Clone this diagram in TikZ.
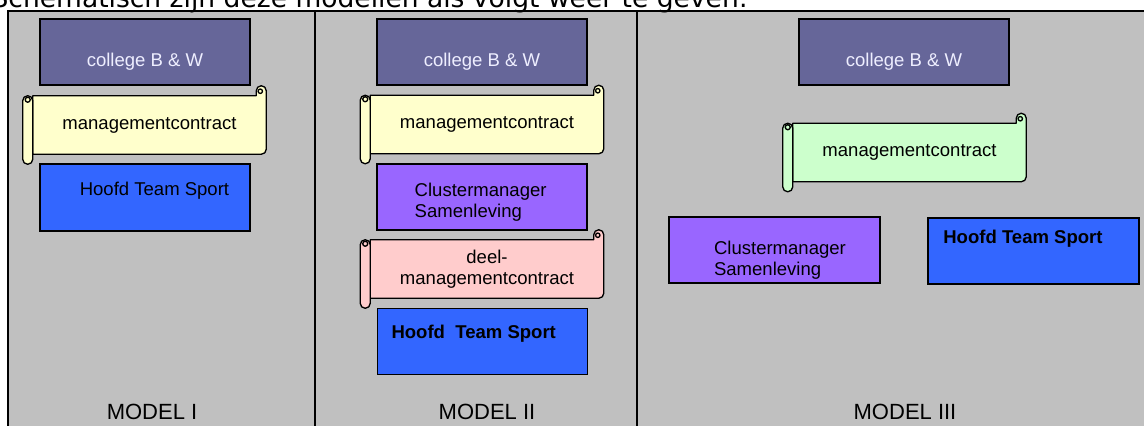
\documentclass[tikz,border=0pt]{standalone}
\usepackage{fontspec}
\setmainfont{Liberation Sans}
\newfontfamily\verdana{DejaVu Sans}
\usetikzlibrary{calc}

\pgfdeclarelayer{achter}
\pgfsetlayers{achter,main}

\definecolor{grijs}{RGB}{192,192,192}
\definecolor{paars}{RGB}{102,102,153}
\definecolor{blauw}{RGB}{51,102,255}
\definecolor{lila}{RGB}{153,102,255}
\definecolor{geel}{RGB}{255,255,204}
\definecolor{roze}{RGB}{255,204,204}
\definecolor{groen}{RGB}{204,255,204}
\definecolor{lichttekst}{RGB}{238,238,255}

% rol: scroll around the node #1, filled with #2
\newcommand\rol[2]{%
  \begin{pgfonlayer}{achter}
    \draw[rolrand, fill=#2] (#1.north west) -- ($(#1.north east)+(-10,0)$) -- ++(0,-5)
      arc[start angle=180, end angle=360, radius=5] -- ($(#1.south east)+(0,-5)$)
      arc[start angle=0, end angle=90, radius=5] -- (#1.south west) -- cycle;
    \draw[rolrand] ($(#1.north east)+(-6,-4.5)$) circle[radius=2.2];
    \draw[rolrand, fill=#2, rounded corners=3.7pt] ($(#1.north west)+(-10,0)$) rectangle ($(#1.south west)+(0,10)$);
    \draw[rolrand] ($(#1.north west)+(-5,4)$) circle[radius=2.5];
  \end{pgfonlayer}}

\begin{document}
\begin{tikzpicture}[x=0.75pt, y=-0.75pt,
    blok/.style={draw=black, line width=1pt, minimum width=157.5pt, minimum height=49.5pt, inner sep=0pt},
    rolblad/.style={minimum width=174.75pt, minimum height=43.5pt, inner sep=0pt,
      font=\fontsize{13.9}{15.75}\selectfont, align=center},
    rolrand/.style={draw=black, line width=1pt, line join=round},
    tekst/.style={font=\fontsize{13.9}{15.75}\selectfont, inner sep=0pt},
    vet/.style={font=\fontsize{13.9}{15.75}\selectfont\bfseries, inner sep=0pt},
    model/.style={font=\fontsize{16.5}{18}\selectfont, inner sep=0pt}]

  \useasboundingbox (0,0) rectangle (1144,425);
  \clip (0,0) rectangle (1144,425);

  \node[font=\verdana\fontsize{19.9}{22}\selectfont, anchor=base east, inner sep=0pt] (kop) at (748,7)
    {Schematisch zijn deze modellen als volgt weer te geven:};

  % kader met drie vakken
  \begin{pgfonlayer}{achter}
    \fill[white] (0,0) rectangle (1144,425);
    \draw[fill=grijs, line width=0.8pt] (8,11) rectangle (1170,450);
    \draw[line width=0.8pt] (315,11) -- (315,450);
    \draw[line width=0.8pt] (637,11) -- (637,450);
  \end{pgfonlayer}

  % model I
  \node[blok, fill=paars, label={[tekst, text=lichttekst, yshift=-7.5pt]center:college B \& W}] (bw1) at (145,52) {};
  \node[rolblad] (mc1) at (149.5,125) {managementcontract};
  \rol{mc1}{geel}
  \node[blok, fill=blauw, minimum height=50.25pt, label={[tekst, xshift=7.1pt, yshift=5.25pt]center:Hoofd Team Sport}] (hts1) at (145,197.5) {};
  \node[model] (m1) at (152,412) {MODEL I};

  % model II
  \node[blok, fill=paars, label={[tekst, text=lichttekst, yshift=-7.5pt]center:college B \& W}] (bw2) at (482,52) {};
  \node[rolblad] (mc2) at (487,124.5) {managementcontract};
  \rol{mc2}{geel}
  \node[blok, fill=lila, label={[tekst, align=left, xshift=-1pt, yshift=-4.1pt]center:Clustermanager\\Samenleving}] (cm2) at (482,197) {};
  \node[rolblad] (dmc2) at (487,269) {deel-\\managementcontract};
  \rol{dmc2}{roze}
  \node[blok, fill=blauw, label={[vet, xshift=-6.6pt, yshift=5.9pt]center:Hoofd\ \ Team Sport}] (hts2) at (482.5,341.3) {};
  \node[model] (m2) at (487,412) {MODEL II};

  % model III
  \node[blok, fill=paars, label={[tekst, text=lichttekst, yshift=-7.5pt]center:college B \& W}] (bw3) at (904,52) {};
  \node[rolblad] (mc3) at (909.5,152.5) {managementcontract};
  \rol{mc3}{groen}
  \node[blok, fill=lila, minimum width=158.25pt, label={[tekst, align=left, xshift=4.1pt, yshift=-7.9pt]center:Clustermanager\\Samenleving}] (cm3) at (774.5,250) {};
  \node[blok, fill=blauw, minimum width=158.25pt, label={[vet, xshift=-7.9pt, yshift=9.4pt]center:Hoofd Team Sport}] (hts3) at (1033.5,251) {};
  \node[model] (m3) at (905,412) {MODEL III};
\end{tikzpicture}
\end{document}
